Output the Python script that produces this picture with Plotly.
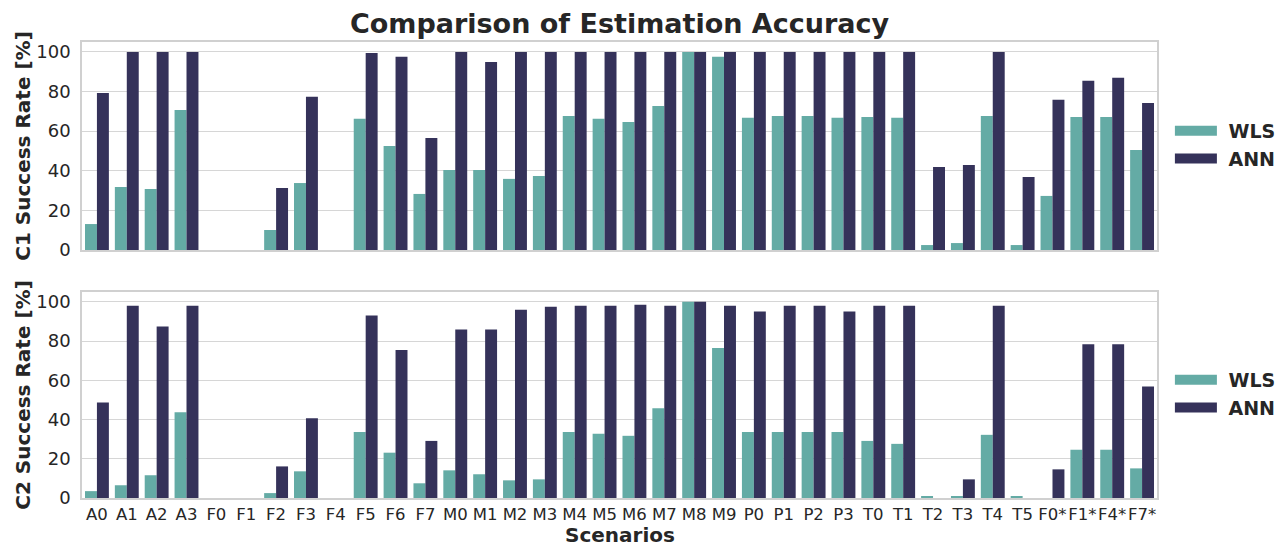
import plotly.graph_objects as go

scenarios = ["A0", "A1", "A2", "A3", "F0", "F1", "F2", "F3", "F4", "F5", "F6", "F7",
             "M0", "M1", "M2", "M3", "M4", "M5", "M6", "M7", "M8", "M9",
             "P0", "P1", "P2", "P3", "T0", "T1", "T2", "T3", "T4", "T5",
             "F0*", "F1*", "F4*", "F7*"]

c1_wls = [13.1, 31.8, 30.8, 70.7, 0, 0, 10.1, 33.8, 0, 66.2, 52.5, 28.3,
          40.4, 40.4, 35.9, 37.4, 67.7, 66.2, 64.6, 72.7, 100, 97.5,
          66.7, 67.7, 67.7, 66.7, 67.2, 66.7, 2.5, 3.5, 67.7, 2.5,
          27.3, 67.2, 67.2, 50.5]
c1_ann = [79.3, 100, 100, 100, 0, 0, 31.3, 77.3, 0, 99.5, 97.5, 56.6,
          100, 94.9, 100, 100, 100, 100, 100, 100, 100, 100,
          100, 100, 100, 100, 100, 100, 41.9, 42.9, 100, 36.9,
          75.8, 85.4, 86.9, 74.2]
c2_wls = [3.5, 6.5, 11.6, 43.7, 0, 0, 2.5, 13.6, 0, 33.7, 23.1, 7.5,
          14.1, 12.1, 9.0, 9.5, 33.7, 32.7, 31.7, 45.7, 100, 76.4,
          33.7, 33.7, 33.7, 33.7, 29.1, 27.6, 1.0, 1.0, 32.2, 1.0,
          0, 24.6, 24.6, 15.1]
c2_ann = [48.7, 98.0, 87.4, 98.0, 0, 0, 16.1, 40.7, 0, 93.0, 75.4, 29.1,
          85.9, 85.9, 96.0, 97.5, 98.0, 98.0, 98.5, 98.0, 100, 98.0,
          95.0, 98.0, 98.0, 95.0, 98.0, 98.0, 0, 9.5, 98.0, 0,
          14.6, 78.4, 78.4, 56.8]

methods = ["WLS", "ANN"]
colors = {"WLS": "#64aba5", "ANN": "#35325a"}
FONT = "DejaVu Sans"
TXT = "#262626"
GRID = "#d6d6d6"

# layout geometry (px)
W, H = 1278, 547
TOP, BOT = 42, 498
PH = BOT - TOP

fig = go.Figure()

panels = [
    ("x", "y", "legend", {"WLS": c1_wls, "ANN": c1_ann}),
    ("x2", "y2", "legend2", {"WLS": c2_wls, "ANN": c2_ann}),
]
for xa, ya, lg, data in panels:
    for m in methods:
        fig.add_trace(go.Bar(
            x=scenarios, y=data[m], name=m, xaxis=xa, yaxis=ya,
            marker=dict(color=colors[m], line=dict(width=0)),
            showlegend=False, legendgroup=lg + m,
        ))
    for m in methods:
        fig.add_trace(go.Scatter(
            x=[None], y=[None], name="\u00a0" + m, xaxis=xa, yaxis=ya,
            mode="lines", line=dict(color=colors[m], width=14), legend=lg,
            legendgroup=lg + m, showlegend=True,
        ))

axis_common = dict(
    showline=True, mirror=True, linecolor="#d0d0d0", linewidth=1.5,
    showgrid=True, gridcolor=GRID, gridwidth=1, zeroline=False,
    tickfont=dict(family=FONT, size=18, color=TXT),
)

legend_common = dict(
    x=1.012, xanchor="left", yanchor="middle", itemwidth=42,
    bgcolor="rgba(0,0,0,0)", tracegroupgap=0,
    font=dict(family=FONT, size=19, color=TXT, weight="bold"),
)

fig.update_layout(
    width=W, height=H,
    margin=dict(l=82, r=121, t=TOP, b=H - BOT, autoexpand=False),
    paper_bgcolor="white", plot_bgcolor="white",
    barmode="group", bargap=0.2, bargroupgap=0,
    font=dict(family=FONT, color=TXT),
    title=dict(text="<b>Comparison of Estimation Accuracy</b>",
               font=dict(family=FONT, size=27, color=TXT),
               x=(82 + 1157) / 2 / W, xanchor="center",
               y=1 - 24 / H, yanchor="middle", yref="container"),
    xaxis=dict(domain=[0, 1], anchor="y", matches="x2", showticklabels=False,
               showline=True, mirror=True, linecolor="#d0d0d0", linewidth=1.5,
               showgrid=False, ticks="", range=[-0.5, len(scenarios) - 0.5]),
    xaxis2=dict(domain=[0, 1], anchor="y2", showline=True, mirror=True,
                linecolor="#d0d0d0", linewidth=1.5, showgrid=False, ticks="",
                tickangle=0,
                tickfont=dict(family=FONT, size=16.5, color=TXT),
                ticklabelstandoff=0, range=[-0.5, len(scenarios) - 0.5]),
    yaxis=dict(domain=[(BOT - 250) / PH, 1.0], anchor="x", range=[0, 105],
               tickvals=[0, 20, 40, 60, 80, 100], ticks="",
               ticklabelstandoff=6,
               title=dict(text="<b>C1 Success Rate [%]</b>", standoff=0,
                          font=dict(family=FONT, size=20, color=TXT)),
               **axis_common),
    yaxis2=dict(domain=[0, (BOT - 292) / PH], anchor="x2", range=[0, 105],
                tickvals=[0, 20, 40, 60, 80, 100], ticks="",
                ticklabelstandoff=6,
                title=dict(text="<b>C2 Success Rate [%]</b>", standoff=0,
                           font=dict(family=FONT, size=20, color=TXT)),
                **axis_common),
    legend=dict(y=(BOT - 145) / PH, **legend_common),
    legend2=dict(y=(BOT - 394) / PH, **legend_common),
    annotations=[dict(
        text="<b>Scenarios</b>", xref="paper", yref="paper",
        x=0.5, y=-(535 - BOT) / PH, xanchor="center", yanchor="middle",
        showarrow=False, borderpad=0,
        font=dict(family=FONT, size=20, color=TXT),
    )],
)

fig.write_html("out.html",
               config={"displayModeBar": False},
               post_script="document.body.style.margin='0';")
